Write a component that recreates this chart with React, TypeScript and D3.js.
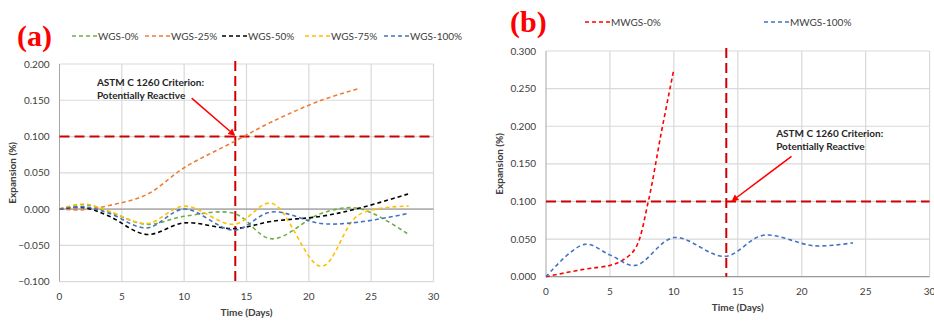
import * as d3 from "d3";

// panel (a): WGS mixes, expansion (%) vs time (days)
const daysA = [0, 2, 4, 7, 10, 14, 17, 21, 24, 28];
const wgs0 = [0, 0.006, -0.004, -0.021, -0.01, -0.006, -0.041, -0.006, 0.001, -0.035];
const wgs25 = [0, -0.001, 0.005, 0.02, 0.057, 0.093, 0.12, 0.15, 0.166, null];
const wgs50 = [0, 0.002, -0.01, -0.035, -0.019, -0.027, -0.017, -0.01, 0.001, 0.021];
const wgs75 = [0, 0.007, -0.003, -0.02, 0.004, -0.021, 0.008, -0.079, -0.008, 0.004];
const wgs100 = [0, 0.003, -0.006, -0.026, 0, -0.029, -0.004, -0.02, -0.018, -0.006];

// panel (b): MWGS mixes
const daysB0 = [0, 3, 5, 6, 7, 8, 9, 10];
const mwgs0 = [0, 0.01, 0.015, 0.022, 0.038, 0.1, 0.19, 0.276];
const daysB100 = [0, 3, 5, 7, 10, 14, 17, 21, 24];
const mwgs100 = [0, 0.043, 0.029, 0.015, 0.052, 0.027, 0.055, 0.041, 0.045];

const xTicks = [0, 5, 10, 15, 20, 25, 30];
const yTicksA = [-0.1, -0.05, 0, 0.05, 0.1, 0.15, 0.2];
const yTicksB = [0, 0.05, 0.1, 0.15, 0.2, 0.25, 0.3];

const criterionDay = 14.1;
const criterionLimit = 0.1;

const FONT = "Lato, 'Open Sans', sans-serif";

type Series = { name: string; color: string; days: number[]; values: (number | null)[] };

const seriesA: Series[] = [
  { name: "WGS-0%", color: "#70AD47", days: daysA, values: wgs0 },
  { name: "WGS-25%", color: "#ED7D31", days: daysA, values: wgs25 },
  { name: "WGS-50%", color: "#000000", days: daysA, values: wgs50 },
  { name: "WGS-75%", color: "#FFC000", days: daysA, values: wgs75 },
  { name: "WGS-100%", color: "#4472C4", days: daysA, values: wgs100 },
];

const seriesB: Series[] = [
  { name: "MWGS-0%", color: "#FF0000", days: daysB0, values: mwgs0 },
  { name: "MWGS-100%", color: "#4472C4", days: daysB100, values: mwgs100 },
];

interface PanelProps {
  label: string;
  labelX: number;
  series: Series[];
  legendX: number[];
  legendY: number;
  x0: number;
  x1: number;
  yTop: number;
  yBottom: number;
  yDomain: [number, number];
  yTicks: number[];
  note: { day: number; value: number };
  arrowFrom: { day: number; value: number };
  arrowTo: { day: number; value: number };
  clipRight: number;
}

function Panel(p: PanelProps) {
  const x = d3.scaleLinear().domain([0, 30]).range([p.x0, p.x1]);
  const y = d3.scaleLinear().domain(p.yDomain).range([p.yBottom, p.yTop]);
  const line = d3
    .line<[number, number | null]>()
    .defined((d) => d[1] !== null)
    .x((d) => x(d[0]))
    .y((d) => y(d[1] as number))
    .curve(d3.curveCatmullRom.alpha(0.5));

  const plotRight = Math.min(p.x1, p.clipRight);
  const zeroY = y(0);
  const midX = (p.x0 + p.x1) / 2;
  const midY = (p.yTop + p.yBottom) / 2;

  const ax = x(p.arrowFrom.day);
  const ay = y(p.arrowFrom.value);
  const bx = x(p.arrowTo.day);
  const by = y(p.arrowTo.value);
  const ang = Math.atan2(by - ay, bx - ax);
  const head = 7;
  const hw = 3.5;
  const hx = bx - head * Math.cos(ang);
  const hy = by - head * Math.sin(ang);

  return (
    <g fontFamily={FONT}>
      <text x={p.labelX} y={p.legendY + 10} fill="#FF0000" fontFamily="'Liberation Serif', serif" fontWeight="bold" fontSize={30}>
        {p.label}
      </text>
      {p.series.map((s, i) => (
        <g key={s.name} transform={`translate(${p.legendX[i]}, ${p.legendY})`}>
          <line x1={0} x2={25} stroke={s.color} strokeWidth={1.5} strokeDasharray="4,3" />
          <text x={26} dy="0.35em" fontSize={10} fill="#404040">
            {s.name}
          </text>
        </g>
      ))}

      {/* grid */}
      {p.yTicks.map((t) => (
        <line key={t} x1={p.x0} x2={plotRight} y1={y(t)} y2={y(t)} stroke="#D9D9D9" strokeWidth={1.2} />
      ))}
      {xTicks.slice(1).map((t) => (
        <line key={t} x1={x(t)} x2={x(t)} y1={p.yTop} y2={p.yBottom} stroke="#D9D9D9" strokeWidth={1.2} />
      ))}
      <line x1={p.x0} x2={p.x0} y1={p.yTop} y2={p.yBottom} stroke="#A6A6A6" strokeWidth={1} />
      <line x1={p.x0} x2={plotRight} y1={zeroY} y2={zeroY} stroke="#8C8C8C" strokeWidth={1} />

      {/* tick labels */}
      {p.yTicks.map((t) => (
        <text key={t} x={p.x0 - 10} y={y(t)} dy="0.35em" textAnchor="end" fontSize={10} fill="#404040">
          {d3.format(".3f")(t)}
        </text>
      ))}
      {xTicks.map((t) => (
        <text key={t} x={x(t)} y={p.yBottom + 15} dy="0.35em" textAnchor="middle" fontSize={10} fill="#404040">
          {t}
        </text>
      ))}
      <text x={midX} y={p.yBottom + 31} dy="0.35em" textAnchor="middle" fontSize={10} fontWeight="bold" fill="#404040">
        Time (Days)
      </text>
      <text
        transform={`translate(${p.x0 - 47}, ${midY}) rotate(-90)`}
        textAnchor="middle"
        dy="0.35em"
        fontSize={10}
        fontWeight="bold"
        fill="#404040"
      >
        Expansion (%)
      </text>

      {/* criterion lines */}
      <line
        x1={p.x0}
        x2={plotRight}
        y1={y(criterionLimit)}
        y2={y(criterionLimit)}
        stroke="#D00000"
        strokeWidth={2}
        strokeDasharray="10,5"
      />
      <line
        x1={x(criterionDay)}
        x2={x(criterionDay)}
        y1={p.yTop - 3}
        y2={p.yBottom}
        stroke="#D00000"
        strokeWidth={2}
        strokeDasharray="10,5"
      />

      {/* series */}
      {p.series.map((s) => (
        <path
          key={s.name}
          d={line(s.days.map((d, i) => [d, s.values[i]] as [number, number | null])) || ""}
          fill="none"
          stroke={s.color}
          strokeWidth={1.6}
          strokeDasharray="4,3"
        />
      ))}

      {/* annotation */}
      <text x={x(p.note.day)} y={y(p.note.value)} dy="0.35em" fontSize={10} fontWeight="bold" fill="#262626">
        <tspan x={x(p.note.day)}>ASTM C 1260 Criterion:</tspan>
        <tspan x={x(p.note.day)} dy={13.5}>
          Potentially Reactive
        </tspan>
      </text>
      <line x1={ax} y1={ay} x2={hx} y2={hy} stroke="#FF0000" strokeWidth={1.5} />
      <path
        d={`M${bx},${by}L${hx - hw * Math.sin(ang)},${hy + hw * Math.cos(ang)}L${hx + hw * Math.sin(ang)},${hy - hw * Math.cos(ang)}Z`}
        fill="#FF0000"
      />
    </g>
  );
}

export default function App() {
  return (
    <svg
      width={934}
      height={322}
      style={{ position: "absolute", left: 0, top: 0, background: "#fff" }}
    >
      <rect width={934} height={322} fill="#fff" />
      <Panel
        label="(a)"
        labelX={17}
        series={seriesA}
        legendX={[72, 145, 222, 305, 384]}
        legendY={36}
        x0={59.5}
        x1={433.5}
        yTop={64}
        yBottom={281.6}
        yDomain={[-0.1, 0.2]}
        yTicks={yTicksA}
        note={{ day: 3.0, value: 0.175 }}
        arrowFrom={{ day: 10.6, value: 0.153 }}
        arrowTo={{ day: 14.1, value: 0.101 }}
        clipRight={934}
      />
      <Panel
        label="(b)"
        labelX={510}
        series={seriesB}
        legendX={[585, 764]}
        legendY={22}
        x0={546}
        x1={929.6}
        yTop={51}
        yBottom={276.7}
        yDomain={[0, 0.3]}
        yTicks={yTicksB}
        note={{ day: 18.0, value: 0.191 }}
        arrowFrom={{ day: 19.2, value: 0.16 }}
        arrowTo={{ day: 14.5, value: 0.1 }}
        clipRight={934}
      />
    </svg>
  );
}
